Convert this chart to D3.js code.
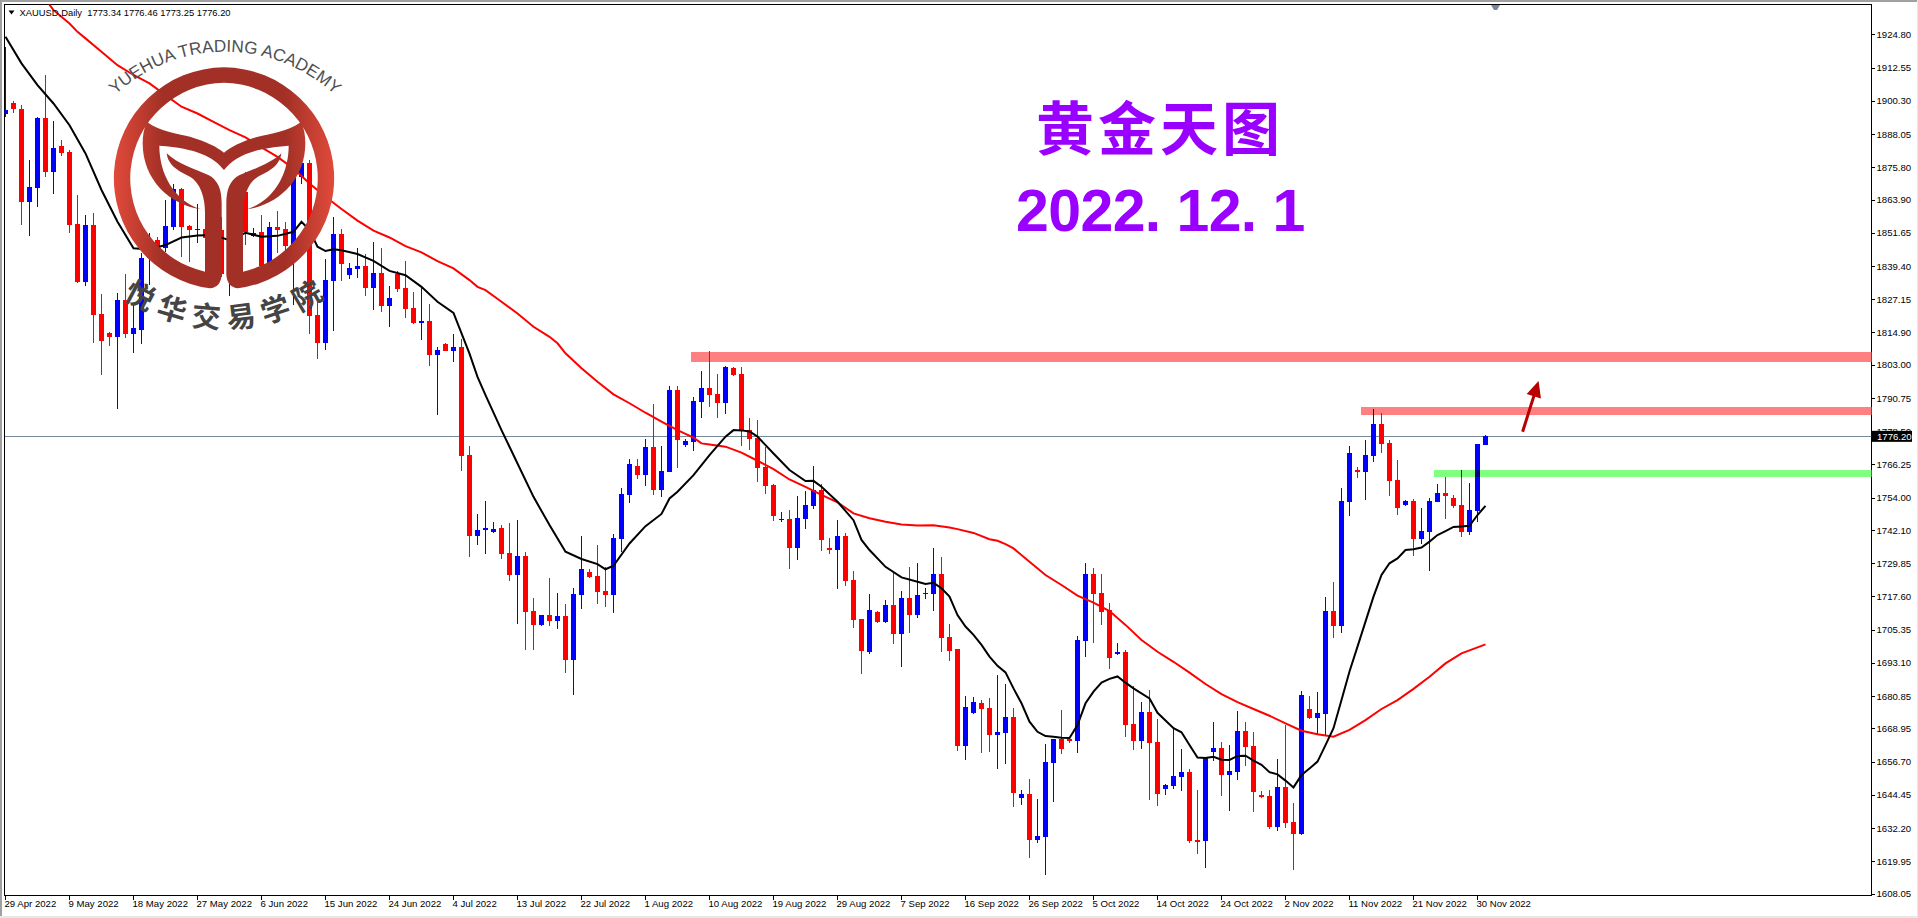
<!DOCTYPE html>
<html lang="en">
<head>
<meta charset="utf-8">
<title>XAUUSD Daily</title>
<style>
  html, body { margin: 0; background: #fff; }
  svg { display: block; }
  .axis text { font-family: "Liberation Sans", sans-serif; font-size: 9.6px; fill: #000; }
  .axis path, .axis line { stroke: #000; shape-rendering: crispEdges; }
  .zone { mix-blend-mode: multiply; }
</style>
</head>
<body>
<svg id="chart" width="1918" height="918"></svg>
<script src="https://cdn.jsdelivr.net/npm/d3@7"></script>
<script>
// ticks
var dateLabels = ["29 Apr 2022", "9 May 2022", "18 May 2022", "27 May 2022", "6 Jun 2022", "15 Jun 2022", "24 Jun 2022", "4 Jul 2022",
  "13 Jul 2022", "22 Jul 2022", "1 Aug 2022", "10 Aug 2022", "19 Aug 2022", "29 Aug 2022", "7 Sep 2022", "16 Sep 2022",
  "26 Sep 2022", "5 Oct 2022", "14 Oct 2022", "24 Oct 2022", "2 Nov 2022", "11 Nov 2022", "21 Nov 2022", "30 Nov 2022"];
var priceTicks = [1924.80, 1912.55, 1900.30, 1888.05, 1875.80, 1863.90, 1851.65, 1839.40, 1827.15, 1814.90, 1803.00, 1790.75, 1778.50,
  1766.25, 1754.00, 1742.10, 1729.85, 1717.60, 1705.35, 1693.10, 1680.85, 1668.95, 1656.70, 1644.45, 1632.20, 1619.95, 1608.05];

// candles
var opens = [1895.3,1899.4,1897.2,1863.1,1868.2,1893.9,1874.0,1883.6,1881.4,1854.8,
  1833.4,1854.5,1821.6,1814.8,1813.3,1826.8,1814.3,1815.7,1842.2,1848.9,
  1845.9,1853.8,1867.7,1854.1,1852.6,1853.0,1848.9,1852.6,1835.4,1863.7,
  1866.7,1850.4,1851.9,1840.3,1853.6,1853.0,1846.5,1872.3,1877.4,1821.3,
  1811.1,1833.9,1851.1,1836.0,1838.4,1839.3,1831.2,1836.8,1824.6,1836.4,
  1831.1,1823.9,1818.3,1819.1,1806.5,1810.5,1808.1,1809.4,1769.7,1739.9,
  1742.1,1741.3,1742.8,1733.6,1725.5,1732.5,1712.2,1707.0,1710.7,1708.5,
  1710.4,1694.1,1718.1,1726.6,1725.1,1719.6,1718.1,1738.7,1755.0,1765.7,
  1762.3,1772.7,1756.8,1763.4,1793.7,1773.4,1774.6,1789.2,1794.4,1792.2,
  1788.9,1801.8,1799.6,1778.9,1776.0,1765.3,1758.6,1745.7,1746.1,1735.4,
  1746.1,1750.9,1756.8,1735.4,1734.7,1739.8,1723.6,1709.3,1697.1,1711.8,
  1708.1,1714.4,1703.7,1717.0,1710.7,1718.5,1718.5,1725.8,1702.6,1698.2,
  1662.4,1674.6,1678.3,1676.5,1666.5,1667.3,1673.2,1643.3,1644.8,1627.8,
  1628.9,1656.2,1665.0,1665.0,1664.3,1701.2,1725.9,1718.9,1712.6,1696.4,
  1697.1,1670.6,1664.3,1675.0,1663.9,1646.6,1647.7,1651.0,1652.9,1627.8,
  1627.4,1660.2,1661.7,1651.8,1652.9,1668.0,1662.5,1644.4,1644.0,1632.6,
  1647.3,1634.4,1630.0,1676.1,1672.8,1674.3,1712.2,1706.7,1752.4,1764.2,
  1763.5,1769.4,1781.2,1774.1,1760.5,1751.3,1752.8,1738.8,1741.3,1752.4,
  1755.7,1753.9,1751.3,1741.3,1749.1,1773.4];
var highs = [1920.2,1900.2,1898.6,1878.4,1894.4,1909.8,1892.8,1885.8,1882.1,1865.5,
  1858.1,1858.8,1829.0,1815.1,1829.6,1836.3,1825.0,1844.0,1851.4,1849.9,
  1863.7,1869.8,1868.0,1854.5,1862.4,1857.5,1853.8,1857.5,1866.1,1868.6,
  1874.1,1853.5,1858.1,1855.7,1859.7,1855.7,1876.0,1883.3,1878.4,1826.2,
  1841.8,1857.3,1853.2,1840.6,1846.2,1843.8,1848.1,1846.2,1832.0,1837.5,
  1841.2,1829.8,1831.7,1825.3,1809.6,1811.1,1814.5,1812.3,1773.0,1747.9,
  1752.7,1745.0,1743.9,1744.6,1745.7,1733.9,1717.0,1710.8,1724.4,1718.8,
  1714.8,1720.7,1739.8,1727.7,1736.5,1728.5,1740.6,1757.5,1768.2,1768.1,
  1775.6,1788.5,1773.0,1795.1,1795.1,1775.5,1791.1,1800.7,1808.0,1799.6,
  1802.5,1802.0,1802.1,1783.3,1782.6,1772.7,1759.0,1748.7,1749.4,1754.6,
  1756.4,1765.7,1759.0,1739.1,1745.7,1741.0,1726.9,1709.3,1718.5,1712.2,
  1716.3,1726.1,1719.6,1728.4,1729.9,1720.7,1735.4,1732.1,1707.4,1698.2,
  1680.9,1680.5,1679.4,1680.2,1688.6,1685.3,1676.5,1646.2,1650.3,1642.9,
  1663.2,1665.0,1675.7,1665.4,1703.0,1729.9,1728.1,1725.9,1715.2,1700.4,
  1697.9,1684.6,1678.7,1683.1,1672.4,1648.5,1669.3,1661.4,1654.0,1646.2,
  1658.5,1671.3,1663.9,1662.8,1675.4,1671.3,1667.6,1645.9,1646.2,1657.7,
  1670.2,1641.4,1682.7,1680.9,1682.4,1717.4,1722.9,1757.6,1773.0,1765.3,
  1775.3,1786.7,1785.2,1775.3,1767.9,1753.1,1753.5,1750.2,1753.9,1759.0,
  1761.6,1755.0,1764.2,1759.4,1773.8,1777.0];
var lows = [1894.4,1895.9,1854.5,1850.6,1861.2,1872.3,1866.1,1880.0,1851.6,1833.2,
  1832.1,1811.1,1799.2,1810.0,1786.8,1812.9,1807.4,1810.6,1832.3,1845.2,
  1844.6,1852.6,1842.8,1840.9,1847.9,1847.1,1844.0,1835.4,1828.3,1857.5,
  1847.1,1850.2,1839.1,1840.1,1844.0,1844.6,1825.0,1869.8,1814.5,1805.1,
  1808.4,1815.5,1833.8,1834.5,1834.8,1828.3,1823.1,1822.4,1817.0,1829.8,
  1820.4,1818.0,1812.1,1802.5,1784.4,1808.0,1804.1,1763.9,1732.2,1736.5,
  1733.2,1741.0,1731.4,1723.3,1707.4,1697.8,1697.8,1706.7,1706.7,1705.6,
  1689.2,1681.2,1712.9,1724.4,1714.8,1713.7,1711.5,1733.9,1752.0,1760.9,
  1758.3,1755.0,1754.2,1763.4,1764.9,1772.7,1771.2,1783.3,1787.4,1783.3,
  1784.8,1798.8,1773.0,1771.5,1759.8,1755.3,1745.4,1745.0,1727.7,1731.0,
  1742.4,1749.8,1734.3,1733.2,1720.3,1721.4,1705.9,1689.0,1696.3,1707.8,
  1707.8,1700.0,1691.6,1704.1,1709.6,1716.6,1712.2,1697.1,1693.8,1660.6,
  1657.3,1674.2,1659.9,1660.2,1654.0,1655.8,1640.0,1640.7,1621.2,1626.7,
  1614.9,1641.8,1659.5,1663.6,1659.9,1695.3,1700.4,1707.1,1690.8,1696.0,
  1665.8,1661.0,1661.4,1642.6,1640.3,1644.4,1646.6,1645.9,1626.7,1622.6,
  1617.5,1656.9,1644.0,1638.5,1649.9,1655.1,1638.1,1643.3,1631.9,1631.1,
  1632.2,1616.7,1629.7,1672.4,1666.5,1666.1,1702.3,1704.1,1747.2,1761.2,
  1753.1,1767.1,1770.5,1754.6,1747.6,1750.9,1732.5,1736.9,1727.0,1752.4,
  1746.1,1750.2,1739.5,1740.2,1745.0,1773.4];
var closes = [1896.9,1897.2,1863.1,1868.5,1894.0,1874.0,1882.8,1881.0,1854.6,1833.4,
  1854.5,1821.4,1811.8,1813.3,1826.8,1814.3,1816.5,1842.2,1845.9,1845.9,
  1854.1,1867.7,1853.8,1852.6,1853.2,1849.8,1851.4,1836.6,1863.7,1866.7,
  1852.0,1851.6,1839.5,1853.8,1852.6,1846.7,1872.3,1877.4,1820.9,1811.1,
  1834.2,1851.1,1840.1,1838.6,1839.3,1831.2,1836.8,1824.6,1827.5,1830.9,
  1823.6,1818.3,1819.1,1806.5,1808.6,1808.1,1809.5,1769.4,1739.9,1742.0,
  1742.8,1742.4,1733.2,1725.5,1732.5,1711.8,1707.0,1710.7,1708.5,1710.4,
  1694.1,1718.5,1727.7,1724.7,1719.2,1718.1,1739.1,1755.3,1766.4,1762.3,
  1772.7,1756.8,1763.8,1793.7,1775.2,1774.9,1789.6,1794.4,1791.8,1788.9,
  1802.1,1799.2,1778.9,1775.6,1764.9,1758.3,1747.2,1746.1,1735.4,1746.5,
  1751.3,1756.8,1738.4,1734.7,1739.8,1723.3,1708.9,1697.5,1712.6,1708.1,
  1714.4,1703.7,1717.0,1710.7,1718.1,1718.8,1725.8,1702.2,1697.5,1662.4,
  1676.8,1678.7,1676.1,1666.5,1667.6,1673.2,1645.1,1644.8,1627.8,1629.3,
  1656.6,1665.0,1661.4,1664.3,1701.5,1725.9,1718.5,1711.9,1694.9,1697.1,
  1670.2,1664.3,1675.0,1663.6,1644.8,1648.1,1651.4,1652.9,1627.4,1627.1,
  1658.0,1661.7,1651.8,1653.2,1668.0,1662.1,1645.5,1643.7,1632.6,1647.3,
  1634.1,1630.0,1681.3,1672.8,1674.6,1712.2,1706.7,1752.8,1770.5,1763.5,
  1769.7,1781.2,1773.8,1760.1,1750.2,1752.8,1738.8,1741.7,1752.8,1755.7,
  1754.6,1750.9,1741.3,1749.4,1773.8,1776.7];

// moving averages: bar index and value
var blackBars = [0,2,4,6,8,10,12,14,16,18,20,22,24,26,28,30,32,34,36,37,38,39,40,41,42,44,46,48,50,52,54,56,58,59,
  60,62,64,66,68,70,72,74,75,76,78,80,82,83,84,86,88,90,91,92,93,94,96,98,100,101,102,104,106,107,108,110,112,114,115,116,117,118,119,
  120,121,122,123,124,125,126,127,128,129,130,131,132,133,134,135,136,137,138,139,140,141,143,144,146,147,148,149,150,151,152,153,154,155,156,157,158,159,160,161,162,163,164,165,166,167,168,169,170,
  171,172,173,174,175,176,177,178,179,180,181,182,183,184,185];
var blackMA = [1923.9,1914.1,1906.1,1899.3,1891.3,1880.9,1867.4,1855.7,1845.9,1845.5,1847.1,1849.9,1850.6,1850.8,1848.9,1851.6,1850.2,1850.5,1852.0,1855.7,1852.6,1846.5,1844.9,1845.6,1845.2,1843.8,1841.3,1837.6,1836.0,1831.7,1826.2,1822.1,1807.1,1798.5,
  1791.8,1778.9,1766.6,1754.3,1743.9,1734.1,1731.4,1729.5,1727.6,1728.9,1737.1,1743.5,1748.0,1753.7,1756.2,1762.3,1769.7,1776.5,1778.9,1778.8,1778.4,1776.5,1770.3,1764.2,1760.1,1760.2,1758.0,1752.5,1745.7,1738.4,1734.7,1728.5,1724.6,1723.0,1722.2,1722.6,1720.6,1717.5,1710.7,
  1706.5,1703.4,1699.7,1695.4,1692.0,1689.6,1683.7,1678.2,1671.4,1667.7,1666.1,1665.9,1665.5,1665.4,1670.2,1678.2,1682.5,1685.8,1687.2,1688.1,1685.8,1683.7,1680.0,1674.7,1669.0,1667.5,1662.8,1658.2,1658.0,1658.5,1657.4,1657.3,1658.8,1658.9,1657.1,1655.5,1652.8,1652.0,1649.7,1647.2,1651.8,1654.2,1656.7,1662.8,1669.0,1679.4,1689.9,1699.1,1708.3,
  1717.5,1725.5,1729.8,1731.6,1734.7,1735.0,1735.6,1737.8,1740.2,1741.7,1743.2,1743.4,1743.6,1747.6,1751.0];
var redBars = [5,6,8,9,10,12,14,16,18,20,22,24,26,28,30,32,34,36,38,40,42,44,46,48,50,52,54,56,58,59,
  60,62,64,66,68,69,70,72,74,76,78,80,82,84,86,87,88,90,92,94,96,98,100,102,104,106,108,110,112,114,116,118,119,
  121,123,124,125,126,128,130,132,134,136,138,140,142,144,146,148,150,152,154,156,158,160,162,164,166,168,170,172,174,176,178,180,182,184,185];
var redMA = [1937.7,1933.7,1928.8,1925.7,1923.3,1918.4,1913.4,1909.8,1906.7,1902.4,1898.1,1895.6,1892.5,1889.5,1886.8,1883.1,1879.6,1875.3,1869.8,1864.9,1860.4,1856.1,1852.4,1849.9,1846.7,1844.4,1841.2,1838.5,1834.2,1831.7,
  1830.5,1826.2,1821.9,1817.0,1813.3,1810.9,1807.2,1801.7,1796.7,1792.1,1788.8,1785.3,1782.0,1778.9,1776.1,1774.0,1773.6,1772.8,1770.6,1767.6,1764.5,1760.7,1758.0,1755.0,1752.3,1748.2,1746.4,1745.1,1744.1,1743.7,1743.8,1743.0,1742.4,
  1741.0,1738.7,1738.1,1736.9,1735.3,1730.4,1725.5,1721.8,1717.9,1715.3,1712.2,1707.1,1701.5,1697.2,1693.5,1689.5,1685.3,1681.6,1678.6,1676.1,1673.6,1670.8,1668.1,1666.8,1665.9,1668.4,1672.0,1676.1,1679.4,1683.5,1688.0,1692.9,1696.6,1698.8,1699.9];

// drawn zones: first bar, top and bottom price
var zoneBars = [85.75, 169.5, 178.6];
var zoneTops = [1807.7, 1787.4, 1764.2];
var zoneBottoms = [1804.0, 1784.4, 1761.6];
var zoneColors = ["#ff8080", "#ff8080", "#80ff80"];

var lastPriceText = "1776.20";
var lastPriceLevel = 1776.6;  // where the line sits on the axis
var arrowBars = [189.7, 191.7];
var arrowPrices = [1778.3, 1797.0];

var svg = d3.select("#chart");

var plotLeft = 4.5, plotRight = 1871.5, plotTop = 4.5, plotBottom = 895.5;

var x = d3.scaleLinear().domain([0, 185]).range([5, 1485]);
var y = d3.scaleLinear().domain([1608.05, 1924.8]).range([893.6, 34.3]);

// window edges
svg.append("rect").attr("width", 1918).attr("height", 2).attr("fill", "#a0a0a0");
svg.append("rect").attr("width", 2).attr("height", 918).attr("fill", "#a0a0a0");
svg.append("rect").attr("y", 916).attr("width", 1918).attr("height", 2).attr("fill", "#e8e8e8");
svg.append("rect").attr("x", 1917).attr("width", 1).attr("height", 918).attr("fill", "#e8e8e8");

var defs = svg.append("defs");
defs.append("clipPath").attr("id", "plot")
  .append("rect").attr("x", plotLeft).attr("y", plotTop).attr("width", plotRight - plotLeft).attr("height", plotBottom - plotTop);

// axes
var yAxis = d3.axisRight(y).tickValues(priceTicks).tickSize(3).tickPadding(2)
  .tickFormat(function (d) { return d.toFixed(2); });
svg.append("g").attr("class", "axis").attr("transform", "translate(" + plotRight + ",0)").call(yAxis)
  .call(function (g) { g.select(".domain").remove(); });

var xAxis = d3.axisBottom(x).tickValues(dateLabels.map(function (d, i) { return i * 8; })).tickSize(4).tickPadding(1)
  .tickFormat(function (d) { return dateLabels[d / 8]; });
svg.append("g").attr("class", "axis").attr("transform", "translate(0," + plotBottom + ")").call(xAxis)
  .call(function (g) {
    g.select(".domain").remove();
    g.selectAll("text").attr("text-anchor", "start").attr("x", -1);
  });

// frame
svg.append("rect").attr("x", plotLeft).attr("y", plotTop).attr("width", plotRight - plotLeft).attr("height", plotBottom - plotTop)
  .attr("fill", "none").attr("stroke", "#000").attr("shape-rendering", "crispEdges");

var plot = svg.append("g").attr("clip-path", "url(#plot)");

// last price line
plot.append("line").attr("x1", plotLeft).attr("x2", plotRight).attr("y1", y(lastPriceLevel)).attr("y2", y(lastPriceLevel))
  .attr("stroke", "#778899").attr("shape-rendering", "crispEdges");

// candles
var candles = plot.selectAll(".candle").data(d3.range(opens.length)).enter().append("g").attr("class", "candle")
  .attr("shape-rendering", "crispEdges")
  .attr("fill", function (i) { return closes[i] >= opens[i] ? "#0000ff" : "#ff0000"; });
candles.append("rect")
  .attr("x", function (i) { return Math.round(x(i)); })
  .attr("y", function (i) { return y(highs[i]); })
  .attr("width", 1)
  .attr("height", function (i) { return y(lows[i]) - y(highs[i]); });
candles.append("rect")
  .attr("x", function (i) { return Math.round(x(i)) - 2; })
  .attr("y", function (i) { return y(Math.max(opens[i], closes[i])); })
  .attr("width", 5)
  .attr("height", function (i) { return Math.max(1, Math.abs(y(opens[i]) - y(closes[i]))); });

// moving averages
var maLine = d3.line().x(function (d) { return x(d[0]) + 0.5; }).y(function (d) { return y(d[1]); });
plot.append("path").attr("fill", "none").attr("stroke", "#ff0000").attr("stroke-width", 2)
  .attr("d", maLine(d3.zip(redBars, redMA)));
plot.append("path").attr("fill", "none").attr("stroke", "#000").attr("stroke-width", 2)
  .attr("d", maLine(d3.zip(blackBars, blackMA)));

// zones
plot.selectAll(".zone").data(zoneBars).enter().append("rect").attr("class", "zone")
  .attr("x", function (d) { return x(d); })
  .attr("y", function (d, i) { return y(zoneTops[i]); })
  .attr("width", function (d) { return plotRight - x(d); })
  .attr("height", function (d, i) { return y(zoneBottoms[i]) - y(zoneTops[i]); })
  .attr("fill", function (d, i) { return zoneColors[i]; })
  .attr("shape-rendering", "crispEdges");

// arrow
var ax0 = x(arrowBars[0]), ay0 = y(arrowPrices[0]), ax1 = x(arrowBars[1]), ay1 = y(arrowPrices[1]);
var angle = Math.atan2(ay1 - ay0, ax1 - ax0);
var nx = Math.cos(angle), ny = Math.sin(angle);
svg.append("line").attr("x1", ax0).attr("y1", ay0).attr("x2", ax1 - nx * 8).attr("y2", ay1 - ny * 8)
  .attr("stroke", "#b80000").attr("stroke-width", 3);
svg.append("path").attr("fill", "#b80000").attr("d",
  "M" + ax1 + "," + ay1 +
  "L" + (ax1 - nx * 16 - ny * 7.5) + "," + (ay1 - ny * 16 + nx * 7.5) +
  "L" + (ax1 - nx * 16 + ny * 7.5) + "," + (ay1 - ny * 16 - nx * 7.5) + "Z");

// last price tag
var tag = svg.append("g");
tag.append("rect").attr("x", plotRight).attr("y", y(lastPriceLevel) - 5.5).attr("width", 40.5).attr("height", 11).attr("fill", "#000");
tag.append("text").attr("x", plotRight + 5.5).attr("y", y(lastPriceLevel) + 3.5).attr("fill", "#fff")
  .style("font", "9.6px 'Liberation Sans', sans-serif").text(lastPriceText);

// header
svg.append("path").attr("d", "M8.5,10.5h6l-3,4z").attr("fill", "#000");
svg.append("text").attr("x", 19.5).attr("y", 16).attr("fill", "#000")
  .style("font", "9.4px 'Liberation Sans', sans-serif").style("white-space", "pre")
  .text("XAUUSD,Daily  1773.34 1776.46 1773.25 1776.20");
svg.append("path").attr("d", "M1491,5h9l-3,5h-3z").attr("fill", "#778899");

// titles
svg.append("text").attr("x", 1160).attr("y", 150).attr("text-anchor", "middle")
  .attr("fill", "#9900ff").attr("letter-spacing", 4)
  .style("font", "700 58px 'Noto Sans CJK SC', sans-serif").text("黄金天图");
svg.append("text").attr("x", 1016).attr("y", 230.7).attr("fill", "#9900ff")
  .style("font", "700 59px 'Liberation Sans', sans-serif").attr("letter-spacing", -0.6).text("2022. 12. 1");

// logo, drawn at 3x and scaled down
var grad = defs.append("linearGradient").attr("id", "logoGrad").attr("gradientUnits", "userSpaceOnUse")
  .attr("x1", 338).attr("x2", 672).attr("y1", 0).attr("y2", 0);
grad.append("stop").attr("offset", "0").attr("stop-color", "#e24b3b");
grad.append("stop").attr("offset", "0.45").attr("stop-color", "#a33026");
grad.append("stop").attr("offset", "1").attr("stop-color", "#a33026");

var logo = svg.append("g").attr("transform", "scale(" + 1 / 3 + ")");
var halfRing = "M665,825 Q662,862 630,865 A333,333 0 0 1 672,202 L672,248 A287,287 0 0 0 615,815 L615,640 " +
  "C615,590 600,548 570,530 C540,515 505,500 500,460 C530,490 590,510 625,525 C655,540 665,570 665,610 Z";
var wing = "M440,365 C480,395 540,402 570,410 C620,425 650,440 672,458 L672,510 C640,470 590,445 478,437 " +
  "C478,520 520,600 603,628 C510,615 428,540 428,430 C428,405 432,385 440,365 Z";
[1, -1].forEach(function (side) {
  var half = logo.append("g").attr("fill", "url(#logoGrad)")
    .attr("transform", side < 0 ? "translate(1344,0) scale(-1,1)" : null);
  half.append("path").attr("d", halfRing);
  half.append("path").attr("d", wing);
});

defs.append("path").attr("id", "logoTop").attr("d", "M64,212.7 A161,161 0 0 1 386,212.7");
defs.append("path").attr("id", "logoBottom").attr("d", "M42,146 A182,182 0 0 0 406,146");

svg.append("text").attr("fill", "#505050").attr("text-anchor", "middle")
  .style("font", "17.2px 'Liberation Sans', sans-serif")
  .append("textPath").attr("href", "#logoTop").attr("startOffset", "50%").text("YUEHUA TRADING ACADEMY");
svg.append("text").attr("fill", "#444").attr("text-anchor", "middle").attr("letter-spacing", 8)
  .style("font", "700 29px 'Noto Sans CJK SC', sans-serif")
  .append("textPath").attr("href", "#logoBottom").attr("startOffset", "50.7%").text("悦华交易学院");
</script>
</body>
</html>
